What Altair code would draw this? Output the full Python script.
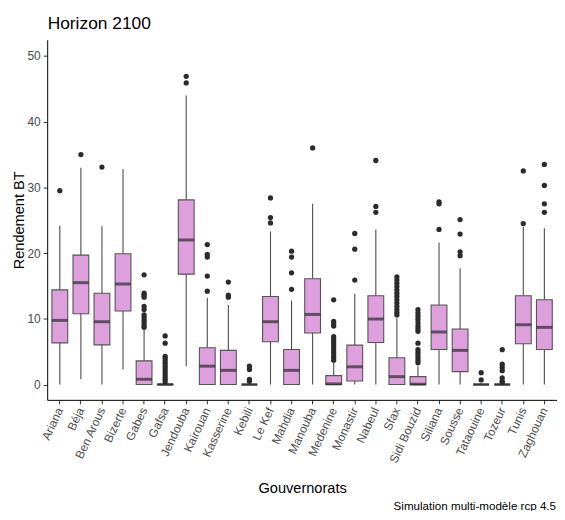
import altair as alt
import pandas as pd

gouv = ["Ariana", "Béja", "Ben Arous", "Bizerte", "Gabes", "Gafsa", "Jendouba",
        "Kairouan", "Kasserine", "Kebili", "Le Kef", "Mahdia", "Manouba", "Medenine",
        "Monastir", "Nabeul", "Sfax", "Sidi Bouzid", "Siliana", "Sousse", "Tataouine",
        "Tozeur", "Tunis", "Zaghouan"]
w_lo = [0, 0.8, 0, 2.3, 0, 0, 2.8, 0, 0, 0, 0, 0, 0, 0, 0, 0, 0, 0, 0, 0, 0, 0, 0, 0]
q1 = [6.34, 10.77, 6.04, 11.2, 0, 0, 16.8, 0, 0, 0, 6.5, 0, 7.85, 0, 0.55, 6.4, 0, 0,
      5.33, 1.96, 0, 0, 6.2, 5.33]
med = [9.76, 15.5, 9.56, 15.3, 0.8, 0, 22.0, 2.8, 2.16, 0, 9.56, 2.16, 10.67, 0.1, 2.7,
       9.97, 1.2, 0.05, 8.0, 5.2, 0, 0, 9.1, 8.7]
q3 = [14.4, 19.7, 13.9, 19.9, 3.6, 0.05, 28.1, 5.6, 5.2, 0, 13.4, 5.33, 16.1, 1.35, 6.0,
      13.5, 4.07, 1.2, 12.1, 8.45, 0, 0, 13.5, 12.9]
w_hi = [24.2, 33.0, 24.1, 32.8, 8.4, 0.1, 44.0, 13.2, 12.1, 0.3, 23.3, 12.8, 27.5, 3.3,
        13.8, 23.6, 10.1, 2.8, 21.6, 17.7, 0.2, 0.2, 24.0, 23.8]

outliers = {
    "Ariana": [29.5],
    "Béja": [35.0],
    "Ben Arous": [33.1],
    "Gabes": [16.7, 13.9, 13.6, 13.3, 11.9, 11.4, 10.6, 10.2, 9.8, 9.4, 9.0, 8.7],
    "Gafsa": [7.4, 6.3, 4.3, 4.0, 3.6, 3.2, 2.8, 2.4, 2.0, 1.6, 1.2, 0.8, 0.4],
    "Jendouba": [45.9, 46.9],
    "Kairouan": [14.2, 16.5, 19.4, 19.8, 21.3],
    "Kasserine": [13.3, 13.6, 15.6],
    "Kebili": [0.5, 0.8, 2.3, 2.8],
    "Le Kef": [24.6, 25.4, 28.4],
    "Mahdia": [14.5, 17.0, 19.4, 20.3],
    "Manouba": [36.0],
    "Medenine": [12.9, 9.6, 9.2, 8.9, 7.3, 6.9, 6.5, 6.1, 5.7, 5.3, 4.9, 4.5, 4.1, 3.7],
    "Monastir": [15.9, 20.6, 23.0],
    "Nabeul": [26.2, 27.1, 34.1],
    "Sfax": [16.4, 15.9, 15.4, 14.9, 14.4, 13.9, 13.4, 12.9, 12.4, 11.9, 11.4, 11.0, 10.6],
    "Sidi Bouzid": [11.4, 10.9, 10.4, 9.9, 9.4, 8.9, 8.5, 8.1, 6.3, 5.3, 4.9, 4.5, 4.1, 3.7, 3.3],
    "Siliana": [23.6, 27.5, 27.8],
    "Sousse": [19.6, 20.2, 22.9, 25.1],
    "Tataouine": [0.7, 1.8],
    "Tozeur": [5.3, 3.1, 2.6, 2.1, 1.0, 0.5, 0.3],
    "Tunis": [24.5, 32.5],
    "Zaghouan": [26.2, 27.5, 30.3, 33.5],
}

title_txt = "Horizon 2100"
x_title = "Gouvernorats"
y_title = "Rendement BT"
caption = "Simulation multi-modèle rcp 4.5"
y_ticks = [0, 10, 20, 30, 40, 50]

stats = pd.DataFrame({"gouv": gouv, "lo": w_lo, "q1": q1, "med": med, "q3": q3, "hi": w_hi})
out_rows = [{"gouv": g, "v": v} for g, vals in outliers.items() for v in vals]
outdf = pd.DataFrame(out_rows)

FONT = "Liberation Sans"
W, H = 514, 363

xenc = alt.X("gouv:N", sort=gouv,
             scale=alt.Scale(paddingInner=0, paddingOuter=0.1),
             axis=alt.Axis(title=x_title, labelAngle=295, labelAlign="right",
                           labelBaseline="middle", labelPadding=4,
                           titleY=93, titleBaseline="alphabetic"))
yscale = alt.Scale(domain=[-2.33, 52.46], nice=False, zero=False)
yaxis = alt.Axis(title=y_title, values=y_ticks, labelPadding=3,
                 titleX=-23.5, titleY=H / 2, titleAngle=270, titleAlign="center",
                 titleBaseline="alphabetic")

whisk = alt.Chart(stats).mark_rule(color="#4d4d4d", strokeWidth=1.1).encode(
    x=xenc,
    y=alt.Y("lo:Q", scale=yscale, axis=yaxis),
    y2="hi:Q",
)
box = alt.Chart(stats).mark_bar(width=alt.RelativeBandSize(0.75), fill="#DDA0DD",
                                stroke="#555555", strokeWidth=1.1).encode(
    x=xenc,
    y=alt.Y("q1:Q", scale=yscale, axis=yaxis),
    y2="q3:Q",
)
median = alt.Chart(stats).mark_tick(color="#2b2b2b", thickness=3, size=16).encode(
    x=xenc,
    y=alt.Y("med:Q", scale=yscale, axis=yaxis),
)
pts = alt.Chart(outdf).mark_circle(color="#2b2b2b", size=28, opacity=1).encode(
    x=xenc,
    y=alt.Y("v:Q", scale=yscale, axis=yaxis),
)
cap = alt.Chart(pd.DataFrame({"t": [caption]})).mark_text(
    align="right", baseline="alphabetic", font=FONT, fontSize=11.7, color="#000000"
).encode(x=alt.value(W - 1), y=alt.value(474), text="t:N")
ttl = alt.Chart(pd.DataFrame({"t": [title_txt]})).mark_text(
    align="left", baseline="alphabetic", font=FONT, fontSize=17.5, color="#000000"
).encode(x=alt.value(0.5), y=alt.value(-11), text="t:N")

chart = alt.layer(whisk, box, median, pts, cap, ttl).properties(
    width=W, height=H,
    autosize=alt.AutoSizeParams(type="none"),
    padding={"left": 39.5, "top": 30, "right": 0, "bottom": 110},
).configure_view(stroke=None).configure_axis(
    grid=False, domainColor="#000000", domainWidth=1, tickColor="#333333",
    tickSize=4, labelColor="#4D4D4D", labelFont=FONT, labelFontSize=12,
    titleFont=FONT, titleFontSize=14.7, titleFontWeight="normal", titleColor="#000000",
)

chart.save("out.html", embed_options={"renderer": "svg", "actions": False})
